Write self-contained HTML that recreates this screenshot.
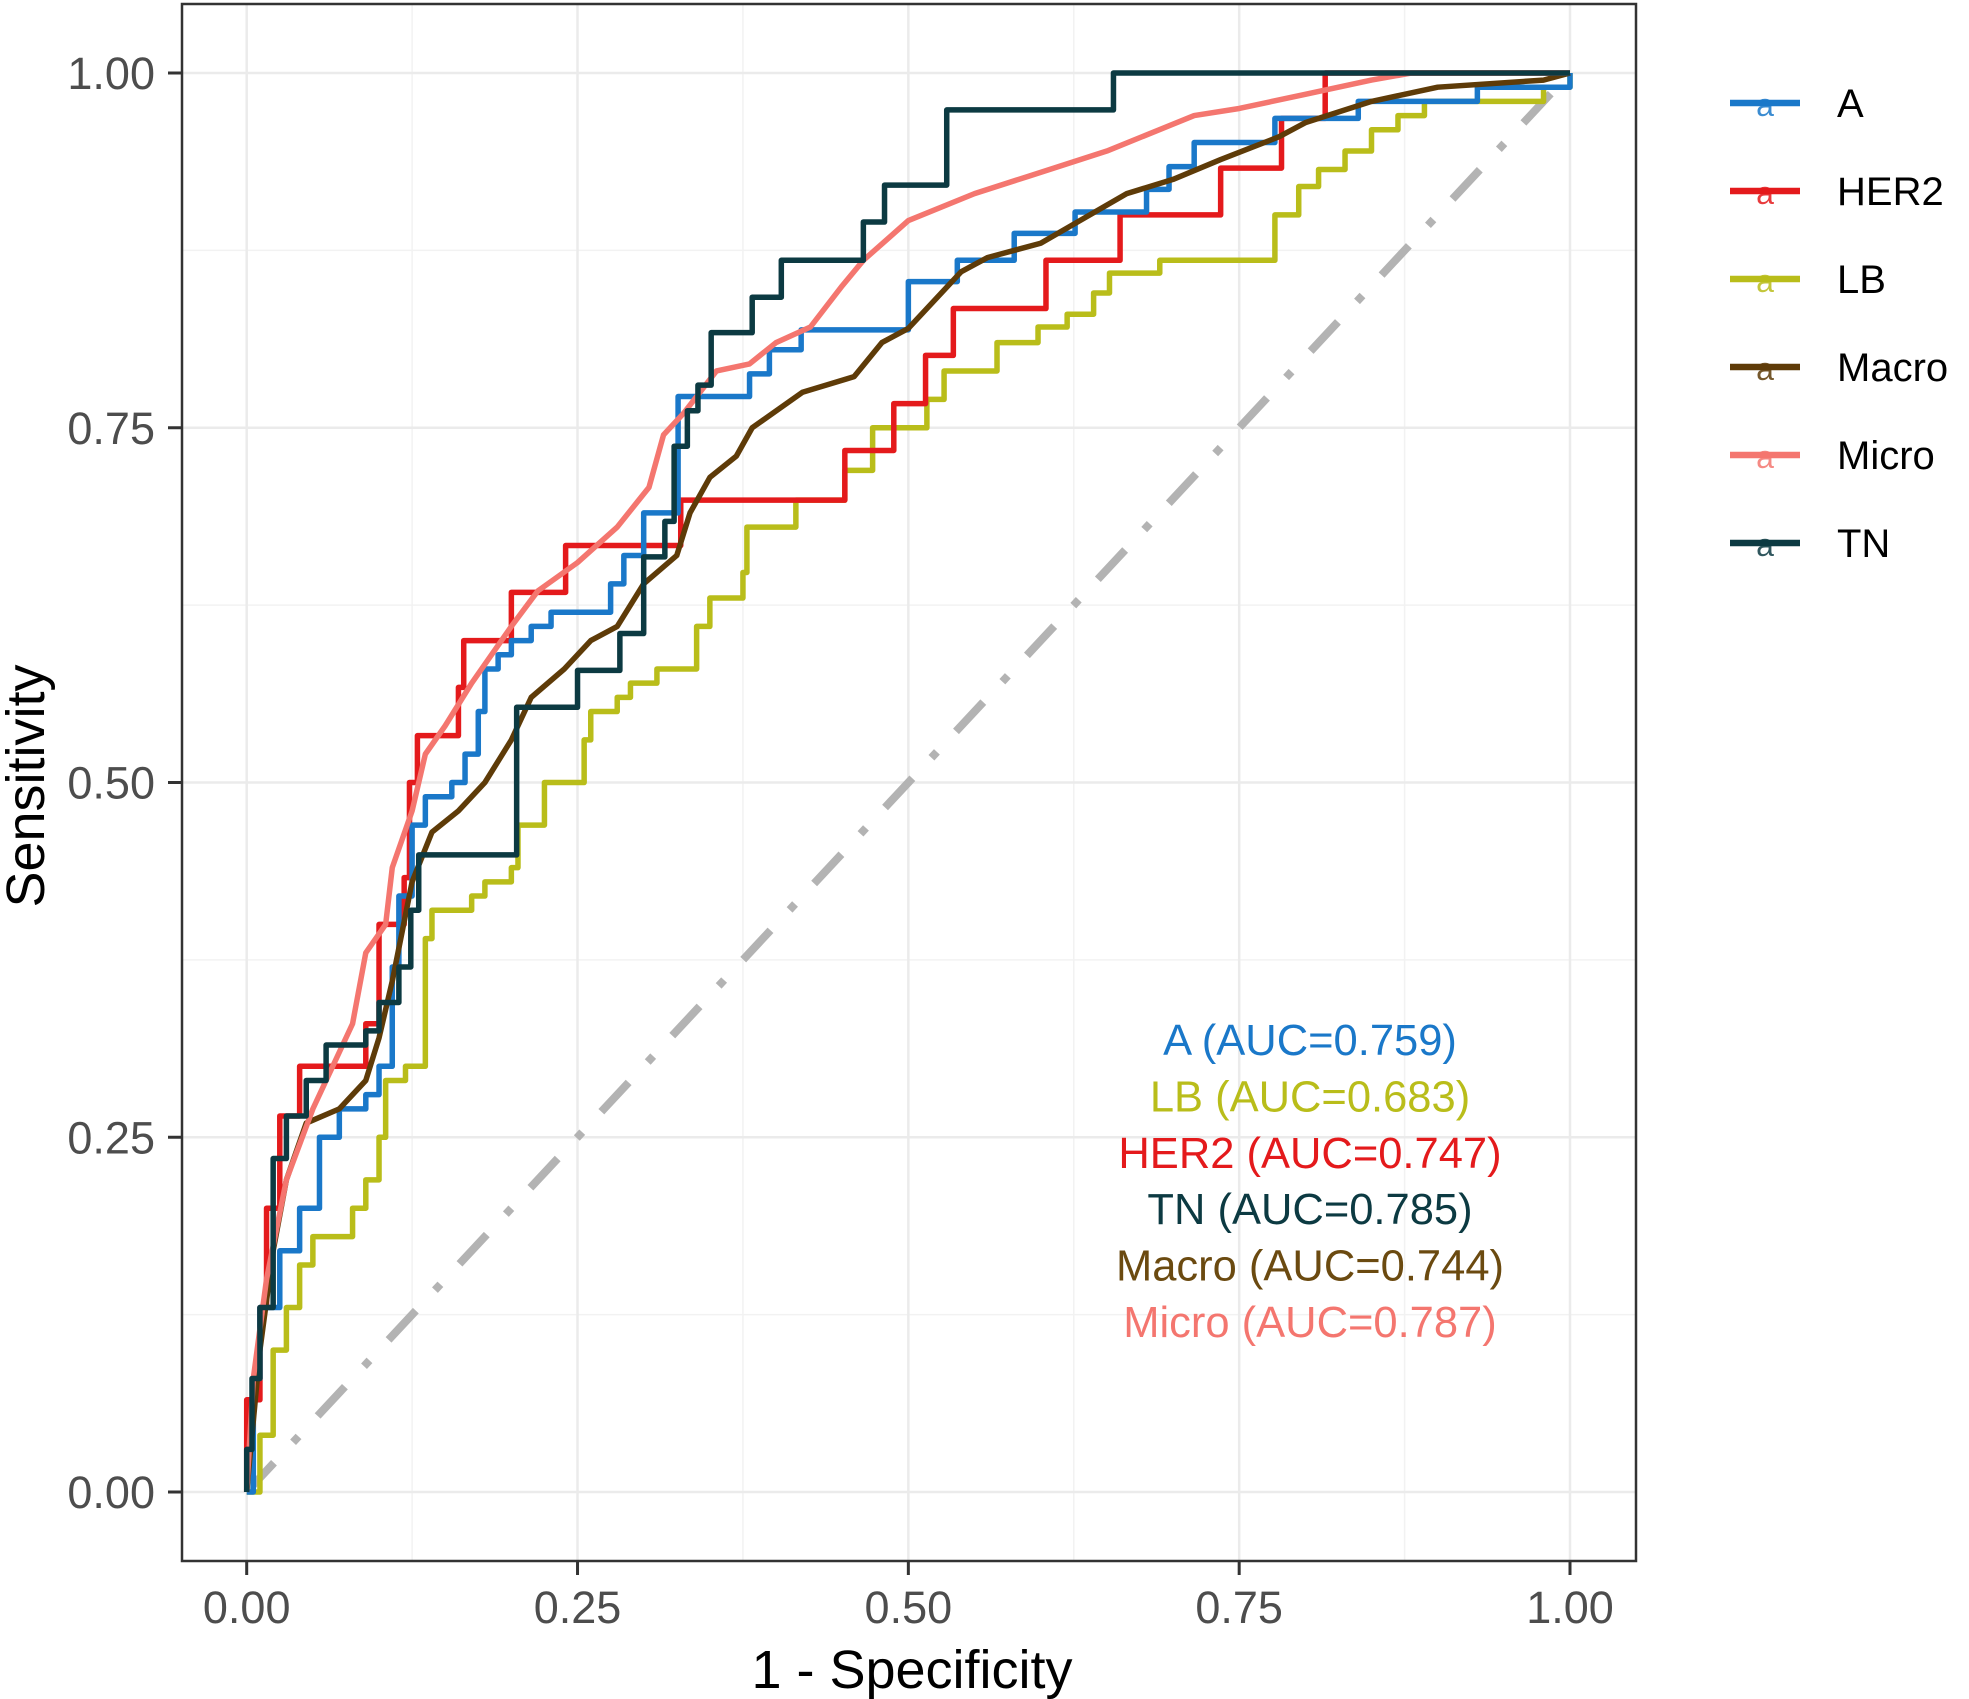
<!DOCTYPE html>
<html><head><meta charset="utf-8"><style>
html,body{margin:0;padding:0;background:#fff;}
svg{display:block;font-family:"Liberation Sans",Arial,sans-serif;}
</style></head><body>
<svg id="chart" width="1969" height="1699" viewBox="0 0 1969 1699" xmlns="http://www.w3.org/2000/svg">
<rect x="0" y="0" width="1969" height="1699" fill="#fff"/>
<g id="grid"></g>
<g id="diag"></g>
<g id="series"></g>
<rect x="182" y="4" width="1454" height="1557" fill="none" stroke="#333" stroke-width="2.5"/>
<g id="axes"></g>
<text x="912" y="1688" font-size="54" text-anchor="middle" fill="#000">1 - Specificity</text>
<text transform="translate(44,786) rotate(-90)" font-size="54" text-anchor="middle" fill="#000">Sensitivity</text>
<g id="legend"></g>
<g id="auc"></g>
</svg>
<script>
const seriesNames = ["A","HER2","LB","Macro","Micro","TN"];
const seriesColors = ["#1a78c9","#e41a1c","#b9bd1a","#5e3b08","#f4766f","#0c3a42"];
const stepStyle = [true,true,true,false,false,true];
const fprA = [0,0.005,0.01,0.025,0.04,0.055,0.07,0.09,0.1,0.11,0.115,0.125,0.135,0.155,0.165,0.175,0.18,0.19,0.2,0.215,0.23,0.275,0.285,0.3,0.326,0.38,0.395,0.419,0.5,0.537,0.58,0.626,0.68,0.697,0.716,0.777,0.84,0.93,1];
const tprA = [0,0.08,0.13,0.17,0.2,0.25,0.27,0.28,0.3,0.37,0.42,0.47,0.49,0.5,0.52,0.55,0.58,0.59,0.6,0.61,0.62,0.64,0.66,0.69,0.772,0.788,0.805,0.819,0.853,0.868,0.887,0.902,0.918,0.934,0.951,0.968,0.98,0.99,1];
const fprHER2 = [0,0,0.01,0.015,0.025,0.04,0.09,0.1,0.119,0.123,0.129,0.16,0.164,0.2,0.241,0.328,0.452,0.489,0.513,0.534,0.604,0.66,0.736,0.782,0.815,1];
const tprHER2 = [0,0.065,0.13,0.2,0.265,0.3,0.33,0.4,0.433,0.5,0.533,0.567,0.6,0.634,0.667,0.699,0.734,0.767,0.801,0.834,0.868,0.9,0.933,0.968,1,1];
const fprLB = [0,0.01,0.02,0.03,0.04,0.05,0.08,0.09,0.1,0.105,0.12,0.135,0.14,0.17,0.18,0.2,0.205,0.225,0.255,0.26,0.28,0.29,0.31,0.34,0.35,0.375,0.378,0.415,0.452,0.473,0.514,0.527,0.567,0.598,0.62,0.64,0.652,0.69,0.777,0.795,0.81,0.83,0.85,0.87,0.89,0.98,1];
const tprLB = [0,0.04,0.1,0.13,0.16,0.18,0.2,0.22,0.25,0.29,0.3,0.39,0.41,0.42,0.43,0.44,0.47,0.5,0.53,0.55,0.56,0.57,0.58,0.61,0.63,0.648,0.68,0.699,0.72,0.75,0.77,0.79,0.81,0.821,0.83,0.845,0.859,0.868,0.9,0.92,0.932,0.945,0.96,0.97,0.98,0.99,1];
const fprMacro = [0,0.01,0.02,0.03,0.045,0.07,0.09,0.1,0.11,0.125,0.14,0.16,0.18,0.2,0.215,0.24,0.26,0.28,0.3,0.325,0.335,0.35,0.37,0.382,0.42,0.459,0.48,0.5,0.52,0.54,0.56,0.6,0.665,0.7,0.736,0.78,0.8,0.85,0.9,0.98,1];
const tprMacro = [0,0.1,0.17,0.22,0.26,0.27,0.29,0.32,0.36,0.43,0.465,0.48,0.5,0.53,0.56,0.58,0.6,0.61,0.64,0.66,0.69,0.715,0.73,0.75,0.775,0.786,0.81,0.82,0.84,0.86,0.87,0.88,0.915,0.925,0.939,0.955,0.965,0.98,0.99,0.995,1];
const fprMicro = [0,0.005,0.015,0.03,0.05,0.07,0.08,0.09,0.105,0.11,0.125,0.135,0.15,0.17,0.2,0.22,0.25,0.28,0.304,0.315,0.33,0.355,0.38,0.4,0.426,0.45,0.466,0.5,0.55,0.59,0.65,0.716,0.75,0.8,0.85,0.88,1];
const tprMicro = [0,0.08,0.15,0.22,0.27,0.31,0.33,0.38,0.4,0.44,0.48,0.52,0.54,0.57,0.61,0.635,0.655,0.68,0.708,0.745,0.76,0.79,0.795,0.81,0.821,0.85,0.868,0.896,0.915,0.927,0.945,0.97,0.975,0.985,0.995,1,1];
const fprTN = [0,0,0.004,0.01,0.02,0.03,0.045,0.06,0.09,0.1,0.115,0.124,0.13,0.204,0.25,0.282,0.3,0.316,0.323,0.333,0.341,0.351,0.382,0.404,0.466,0.482,0.529,0.655,1];
const tprTN = [0,0.03,0.08,0.13,0.235,0.265,0.29,0.315,0.325,0.345,0.37,0.41,0.449,0.553,0.579,0.605,0.659,0.684,0.737,0.762,0.78,0.817,0.842,0.868,0.895,0.921,0.974,1,1];
const aucLabels = ["A (AUC=0.759)","LB (AUC=0.683)","HER2 (AUC=0.747)","TN (AUC=0.785)","Macro (AUC=0.744)","Micro (AUC=0.787)"];
const aucColors = ["#1a78c9","#b9bd1a","#e41a1c","#0c3a42","#6b4a10","#f4766f"];
const tickVals = [0,0.25,0.5,0.75,1];
const tickLabels = ["0.00","0.25","0.50","0.75","1.00"];
const minorVals = [0.125,0.375,0.625,0.875];

const NS="http://www.w3.org/2000/svg";
const X0=246.7,X1=1570,Y0=1492,Y1=73;
function sx(v){return X0+(X1-X0)*v;}
function sy(v){return Y0-(Y0-Y1)*v;}
function mk(tag,parent,attrs){const e=document.createElementNS(NS,tag);for(const k in attrs)e.setAttribute(k,attrs[k]);parent.appendChild(e);return e;}

const grid=document.getElementById('grid');
minorVals.forEach(v=>{
  let l=mk('line',grid,{x1:sx(v),x2:sx(v),y1:4,y2:1561,stroke:'#f2f2f2','stroke-width':1.5});
  
  
  let h=mk('line',grid,{x1:182,x2:1636,y1:sy(v),y2:sy(v),stroke:'#f2f2f2','stroke-width':1.5});
  
  
});
const axes=document.getElementById('axes');
tickVals.forEach((v,i)=>{
  let l=mk('line',grid,{x1:sx(v),x2:sx(v),y1:4,y2:1561,stroke:'#ebebeb','stroke-width':2.5});
  
  
  let h=mk('line',grid,{x1:182,x2:1636,y1:sy(v),y2:sy(v),stroke:'#ebebeb','stroke-width':2.5});
  
  
  let tx=mk('line',axes,{x1:sx(v),x2:sx(v),y1:1561,y2:1575,stroke:'#333','stroke-width':3});
  
  
  let ty=mk('line',axes,{x1:168,x2:182,y1:sy(v),y2:sy(v),stroke:'#333','stroke-width':3});
  
  
  let lx=mk('text',axes,{x:sx(v),y:1623,'font-size':45,'text-anchor':'middle',fill:'#4d4d4d'});
  lx.textContent=tickLabels[i];
  
  
  let ly=mk('text',axes,{x:155,y:sy(v)+16,'font-size':45,'text-anchor':'end',fill:'#4d4d4d'});
  ly.textContent=tickLabels[i];
  
  
});
const diag=document.getElementById('diag');
let d=mk('line',diag,{x1:sx(0),y1:sy(0),x2:sx(1),y2:sy(1),stroke:'#b3b3b3','stroke-width':8,'stroke-dasharray':'40 28 8 28'});



const fprs=[fprA,fprHER2,fprLB,fprMacro,fprMicro,fprTN];
const tprs=[tprA,tprHER2,tprLB,tprMacro,tprMicro,tprTN];
const order=[2,1,0,3,4,5];
const ser=document.getElementById('series');
order.forEach(i=>{
  const fx=fprs[i],ty=tprs[i];let p='M'+sx(fx[0])+' '+sy(ty[0]);
  for(let k=1;k<fx.length;k++){
    if(stepStyle[i]){p+=' L'+sx(fx[k])+' '+sy(ty[k-1])+' L'+sx(fx[k])+' '+sy(ty[k]);}
    else p+=' L'+sx(fx[k])+' '+sy(ty[k]);
  }
  let path=mk('path',ser,{d:p,fill:'none',stroke:seriesColors[i],'stroke-width':5.5,'stroke-linejoin':'round'});
  
  
});
const leg=document.getElementById('legend');
seriesNames.forEach((n,i)=>{
  const y=103+88*i;
  const g=mk('g',leg,{});
  
  
  mk('line',g,{x1:1730,x2:1800,y1:y,y2:y,stroke:seriesColors[i],'stroke-width':6.5});
  const a=mk('text',g,{x:1765,y:y+13,'font-size':32,'text-anchor':'middle',fill:seriesColors[i],opacity:0.85});a.textContent='a';
  const t=mk('text',g,{x:1837,y:y+14,'font-size':40,fill:'#000'});t.textContent=n;
});
const auc=document.getElementById('auc');
aucLabels.forEach((s,i)=>{
  const t=mk('text',auc,{x:1310,y:1055+56.4*i,'font-size':43.5,'text-anchor':'middle',fill:aucColors[i]});
  t.textContent=s;
  
  
});
</script>
</body></html>
